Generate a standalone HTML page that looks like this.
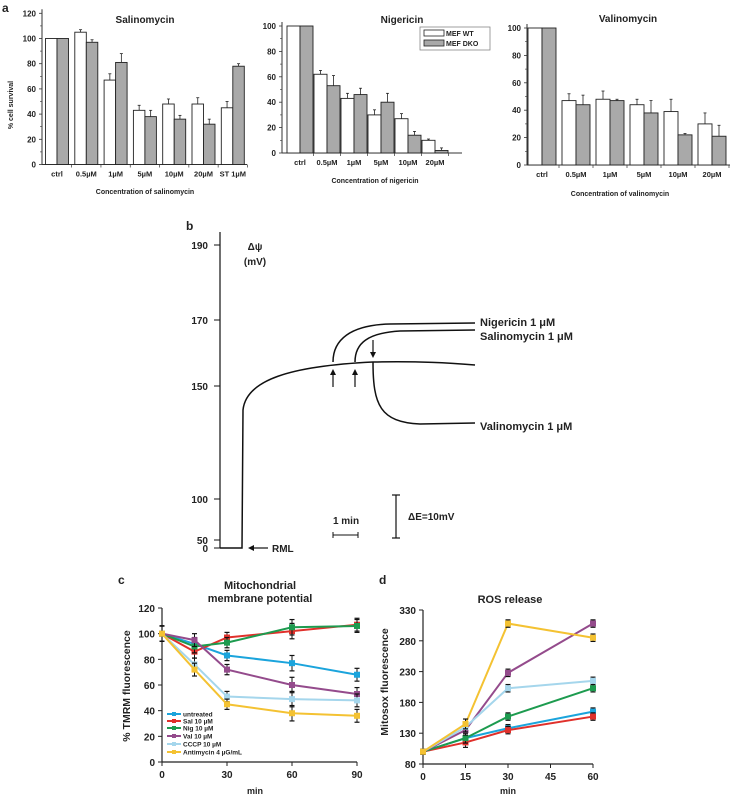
<!DOCTYPE html>
<html><head><meta charset="utf-8">
<style>
html,body{margin:0;padding:0;background:#fff;}
svg{display:block;font-family:"Liberation Sans",Arial,sans-serif;}
text{font-weight:bold;fill:#222;}
</style></head>
<body>
<svg id="fig" width="731" height="798" viewBox="0 0 731 798" xmlns="http://www.w3.org/2000/svg">
<text x="2" y="12" font-size="12">a</text>
<text x="186" y="230" font-size="12">b</text>
<text x="118" y="584" font-size="12">c</text>
<text x="379" y="584" font-size="12">d</text>

<g id="panelA"></g>

<g>
<rect x="420" y="27" width="70" height="23" fill="#fff" stroke="#888" stroke-width="0.8"/>
<rect x="424" y="30" width="20" height="6" fill="#fff" stroke="#222" stroke-width="0.8"/>
<text x="446" y="36" font-size="7" font-weight="normal">MEF WT</text>
<rect x="424" y="40" width="20" height="6" fill="#a9a9a9" stroke="#222" stroke-width="0.8"/>
<text x="446" y="46" font-size="7" font-weight="normal">MEF DKO</text>
</g>

<g fill="none" stroke="#111" stroke-width="1.5">
<line x1="220" y1="232" x2="220" y2="548" stroke-width="1.2"/>
<g stroke-width="1"><line x1="214" y1="245" x2="220" y2="245"/><line x1="214" y1="320" x2="220" y2="320"/><line x1="214" y1="386" x2="220" y2="386"/><line x1="214" y1="499" x2="220" y2="499"/><line x1="214" y1="540" x2="220" y2="540"/><line x1="214" y1="548" x2="220" y2="548"/></g>
<path d="M220 548 L242 548 L243 410 C246 380 290 366 373 362 C420 361 450 363 475 365"/>
<path d="M333 362 C333 340 350 325 390 324 L475 323"/>
<path d="M355 362 C355 343 368 333 400 331 L475 330"/>
<path d="M373 362 C373 405 380 422 420 424 L475 423"/>
<g stroke-width="1.2">
<line x1="333" y1="387" x2="333" y2="373"/><line x1="355" y1="387" x2="355" y2="373"/><line x1="373" y1="340" x2="373" y2="354"/>
<line x1="333" y1="535" x2="358" y2="535" stroke-width="1"/><line x1="333" y1="532" x2="333" y2="538" stroke-width="1"/><line x1="358" y1="532" x2="358" y2="538" stroke-width="1"/>
<line x1="396" y1="495" x2="396" y2="538"/><line x1="392" y1="495" x2="400" y2="495"/><line x1="392" y1="538" x2="400" y2="538"/>
<line x1="252" y1="548" x2="268" y2="548"/>
</g>
</g>
<g fill="#111">
<polygon points="333,369 330,375 336,375"/><polygon points="355,369 352,375 358,375"/><polygon points="373,358 370,352 376,352"/><polygon points="248,548 254,545 254,551"/>
</g>
<g font-size="10">
<text x="208" y="249" text-anchor="end">190</text>
<text x="208" y="324" text-anchor="end">170</text>
<text x="208" y="390" text-anchor="end">150</text>
<text x="208" y="503" text-anchor="end">100</text>
<text x="208" y="544" text-anchor="end">50</text>
<text x="208" y="552" text-anchor="end">0</text>
<text x="255" y="250" text-anchor="middle" font-weight="normal">Δψ</text>
<text x="255" y="265" text-anchor="middle">(mV)</text>
<text x="480" y="326" font-size="11">Nigericin 1 μM</text>
<text x="480" y="340" font-size="11">Salinomycin 1 μM</text>
<text x="480" y="430" font-size="11">Valinomycin 1 μM</text>
<text x="346" y="524" text-anchor="middle">1 min</text>
<text x="408" y="520" font-weight="normal">ΔE=10mV</text>
<text x="272" y="552">RML</text>
</g>

<g id="panelC"></g>
<g id="panelD"></g>
</svg>

<script>
const salCats = ["ctrl","0.5µM","1µM","5µM","10µM","20µM","ST 1µM"];
const salWT = [100,105,67,43,48,48,45];
const salDKO = [100,97,81,38,36,32,78];
const salWTerr = [0,2,5,4,4,5,5];
const salDKOerr = [0,2,7,5,3,4,2];
const salTicks = [0,20,40,60,80,100,120];

const nigCats = ["ctrl","0.5µM","1µM","5µM","10µM","20µM"];
const nigWT = [100,62,43,30,27,10];
const nigDKO = [100,53,46,40,14,2];
const nigWTerr = [0,3,4,4,4,1];
const nigDKOerr = [0,8,5,7,3,2];
const nigTicks = [0,20,40,60,80,100];

const valCats = ["ctrl","0.5µM","1µM","5µM","10µM","20µM"];
const valWT = [100,47,48,44,39,30];
const valDKO = [100,44,47,38,22,21];
const valWTerr = [0,5,6,4,9,8];
const valDKOerr = [0,7,1,9,1,8];
const valTicks = [0,20,40,60,80,100];

const tmrmX = [0,15,30,60,90];
const tmrmTicksY = [0,20,40,60,80,100,120];
const tmrmTicksX = [0,30,60,90];
const tmrmUntreated = [100,92,83,77,68];
const tmrmSal = [100,86,97,102,107];
const tmrmNig = [100,90,93,105,106];
const tmrmVal = [100,95,72,60,53];
const tmrmCCCP = [100,76,51,49,48];
const tmrmAnti = [100,72,45,38,36];
const tmrmErr = [6,5,4,6,5];

const rosX = [0,15,30,60];
const rosTicksY = [80,130,180,230,280,330];
const rosTicksX = [0,15,30,45,60];
const rosUntreated = [100,122,138,165];
const rosSal = [100,115,135,157];
const rosNig = [100,122,157,203];
const rosVal = [100,135,228,308];
const rosCCCP = [100,140,203,215];
const rosAnti = [100,145,308,285];
const rosErr = [4,8,6,6];

const seriesNames = ["untreated","Sal 10 µM","Nig 10 µM","Val 10 µM","CCCP 10 µM","Antimycin 4 µG/mL"];
const seriesColors = ["#1ba4dc","#e0302b","#1d9b4f","#944b8c","#a5d6ec","#f4c232"];

const NS = "http://www.w3.org/2000/svg";
function mk(parent, tag, attrs, txt){
  const e = document.createElementNS(NS, tag);
  for (const k in attrs) e.setAttribute(k, attrs[k]);
  if (txt !== undefined) e.textContent = txt;
  parent.appendChild(e);
  return e;
}

function barPanel(cfg){
  const g = document.getElementById("panelA");
  const sub = mk(g, "g", {});
  
  
  const yS = v => cfg.y0 - v * cfg.ppu;
  const xS = i => cfg.c0 + i * cfg.step;
  const maxT = cfg.ticks[cfg.ticks.length-1];
  const top = yS(maxT) - 4;
  mk(sub, "line", {x1:cfg.ax, y1:top, x2:cfg.ax, y2:cfg.y0, stroke:"#333", "stroke-width":1});
  mk(sub, "line", {x1:cfg.ax, y1:cfg.y0, x2:cfg.xEnd, y2:cfg.y0, stroke:"#333", "stroke-width":1});
  cfg.ticks.forEach(t => {
    mk(sub, "line", {x1:cfg.ax-3, y1:yS(t), x2:cfg.ax, y2:yS(t), stroke:"#333", "stroke-width":0.8});
    if (t < maxT) mk(sub, "line", {x1:cfg.ax-2, y1:yS(t+10), x2:cfg.ax, y2:yS(t+10), stroke:"#333", "stroke-width":0.6});
    const tl = mk(sub, "text", {x:cfg.ax-6, y:yS(t)+3, "font-size":8, "text-anchor":"end"}, t);
    
    
  });
  cfg.cats.forEach((c, i) => {
    const cx = xS(i);
    [[cfg.wt, cfg.wtErr, "#fff", -1],[cfg.dko, cfg.dkoErr, "#a9a9a9", 0]].forEach(([vals, errs, fill, off], k) => {
      const v = vals[i], x = cx + off*cfg.bw;
      const r = mk(sub, "rect", {x:x, y:yS(v), width:cfg.bw, height:cfg.y0 - yS(v), fill:fill, stroke:"#222", "stroke-width":0.9});
      
      
      if (errs[i] > 0){
        const ex = x + cfg.bw/2;
        mk(sub, "line", {x1:ex, y1:yS(v), x2:ex, y2:yS(v+errs[i]), stroke:"#222", "stroke-width":0.8});
        mk(sub, "line", {x1:ex-1.5, y1:yS(v+errs[i]), x2:ex+1.5, y2:yS(v+errs[i]), stroke:"#222", "stroke-width":0.8});
      }
    });
    mk(sub, "line", {x1:cx + cfg.step/2, y1:cfg.y0, x2:cx + cfg.step/2, y2:cfg.y0+3, stroke:"#333", "stroke-width":0.7});
    const xl = mk(sub, "text", {x:cx, y:cfg.y0+12, "font-size":7.5, "text-anchor":"middle"}, c);
    
    
  });
  const tt = mk(sub, "text", {x:cfg.tx, y:cfg.ty, "font-size":10, "text-anchor":"middle"}, cfg.title);
  
  
  const xt = mk(sub, "text", {x:cfg.xtx, y:cfg.xty, "font-size":7, "font-weight":"normal", "text-anchor":"middle"}, cfg.xtitle);
  
  
}

barPanel({name:"salinomycin-chart", cats:salCats, wt:salWT, dko:salDKO, wtErr:salWTerr, dkoErr:salDKOerr, ticks:salTicks,
  ax:42, y0:164.5, ppu:1.26, c0:57, step:29.3, bw:11.5, xEnd:247, title:"Salinomycin", tx:145, ty:23, xtitle:"Concentration of salinomycin", xtx:145, xty:194});
barPanel({name:"nigericin-chart", cats:nigCats, wt:nigWT, dko:nigDKO, wtErr:nigWTerr, dkoErr:nigDKOerr, ticks:nigTicks,
  ax:282, y0:153, ppu:1.27, c0:300, step:27, bw:13, xEnd:462, title:"Nigericin", tx:402, ty:23, xtitle:"Concentration of nigericin", xtx:375, xty:183});
barPanel({name:"valinomycin-chart", cats:valCats, wt:valWT, dko:valDKO, wtErr:valWTerr, dkoErr:valDKOerr, ticks:valTicks,
  ax:527, y0:165, ppu:1.37, c0:542, step:34, bw:14, xEnd:730, title:"Valinomycin", tx:628, ty:22, xtitle:"Concentration of valinomycin", xtx:620, xty:196});

const ylabA = mk(document.getElementById("panelA"), "text", {x:0, y:0, "font-size":7, "font-weight":"normal", "text-anchor":"middle", transform:"translate(13,105) rotate(-90)"}, "% cell survival");



function linePanel(cfg){
  const g = document.getElementById(cfg.id);
  const xS = v => cfg.x0 + (v - cfg.xmin) * cfg.xppu;
  const yS = v => cfg.y0 - (v - cfg.ymin) * cfg.yppu;
  const yTop = yS(cfg.yticks[cfg.yticks.length-1]);
  mk(g, "line", {x1:cfg.x0, y1:yTop, x2:cfg.x0, y2:cfg.y0, stroke:"#222", "stroke-width":1.2});
  mk(g, "line", {x1:cfg.x0, y1:cfg.y0, x2:xS(cfg.xticks[cfg.xticks.length-1]), y2:cfg.y0, stroke:"#222", "stroke-width":1.2});
  cfg.yticks.forEach(t => {
    mk(g, "line", {x1:cfg.x0-4, y1:yS(t), x2:cfg.x0, y2:yS(t), stroke:"#222", "stroke-width":1});
    const l = mk(g, "text", {x:cfg.x0-7, y:yS(t)+4, "font-size":10, "text-anchor":"end"}, t);
    
    
  });
  cfg.xticks.forEach(t => {
    mk(g, "line", {x1:xS(t), y1:cfg.y0, x2:xS(t), y2:cfg.y0+4, stroke:"#222", "stroke-width":1});
    const l = mk(g, "text", {x:xS(t), y:cfg.y0+16, "font-size":10, "text-anchor":"middle"}, t);
    
    
  });
  cfg.series.forEach((vals, si) => {
    const sg = mk(g, "g", {});
    
    
    const pts = vals.map((v, i) => xS(cfg.xs[i]) + "," + yS(v)).join(" ");
    mk(sg, "polyline", {points:pts, fill:"none", stroke:seriesColors[si], "stroke-width":2});
    vals.forEach((v, i) => {
      const x = xS(cfg.xs[i]), e = cfg.err[i];
      mk(sg, "line", {x1:x, y1:yS(v-e), x2:x, y2:yS(v+e), stroke:"#111", "stroke-width":1});
      mk(sg, "line", {x1:x-2.5, y1:yS(v+e), x2:x+2.5, y2:yS(v+e), stroke:"#111", "stroke-width":1.2});
      mk(sg, "line", {x1:x-2.5, y1:yS(v-e), x2:x+2.5, y2:yS(v-e), stroke:"#111", "stroke-width":1.2});
      const p = mk(sg, "rect", {x:x-3, y:yS(v)-3, width:6, height:6, fill:seriesColors[si]});
      
      
    });
  });
  cfg.title.forEach((t, i) => {
    const l = mk(g, "text", {x:cfg.tx, y:cfg.ty + i*13, "font-size":11, "text-anchor":"middle"}, t);
    
    
  });
  const yl = mk(g, "text", {x:0, y:0, "font-size":10.5, "text-anchor":"middle", transform:"translate(" + cfg.ylx + "," + cfg.yly + ") rotate(-90)"}, cfg.ylabel);
  
  
  const xl = mk(g, "text", {x:cfg.xlx, y:794, "font-size":9, "text-anchor":"middle"}, "min");
  
  
}

linePanel({id:"panelC", xs:tmrmX, xticks:tmrmTicksX, yticks:tmrmTicksY, x0:162, xmin:0, xppu:195/90, y0:762, ymin:0, yppu:154/120,
  series:[tmrmUntreated,tmrmSal,tmrmNig,tmrmVal,tmrmCCCP,tmrmAnti], err:tmrmErr,
  title:["Mitochondrial","membrane potential"], tx:260, ty:589, ylabel:"% TMRM fluorescence", ylx:130, yly:686, xlx:255});
linePanel({id:"panelD", xs:rosX, xticks:rosTicksX, yticks:rosTicksY, x0:423, xmin:0, xppu:170/60, y0:764, ymin:80, yppu:154/250,
  series:[rosUntreated,rosSal,rosNig,rosVal,rosCCCP,rosAnti], err:rosErr,
  title:["ROS release"], tx:510, ty:603, ylabel:"Mitosox fluorescence", ylx:388, yly:682, xlx:508});

const lg = mk(document.getElementById("panelC"), "g", {});


const legY = [714,721,728,736,744,752];
seriesNames.forEach((n, i) => {
  mk(lg, "line", {x1:167, y1:legY[i], x2:181, y2:legY[i], stroke:seriesColors[i], "stroke-width":2});
  mk(lg, "rect", {x:172, y:legY[i]-2, width:4, height:4, fill:seriesColors[i]});
  const t = mk(lg, "text", {x:183, y:legY[i]+2.5, "font-size":6.5}, n);
  
  
});
</script>
</body></html>
